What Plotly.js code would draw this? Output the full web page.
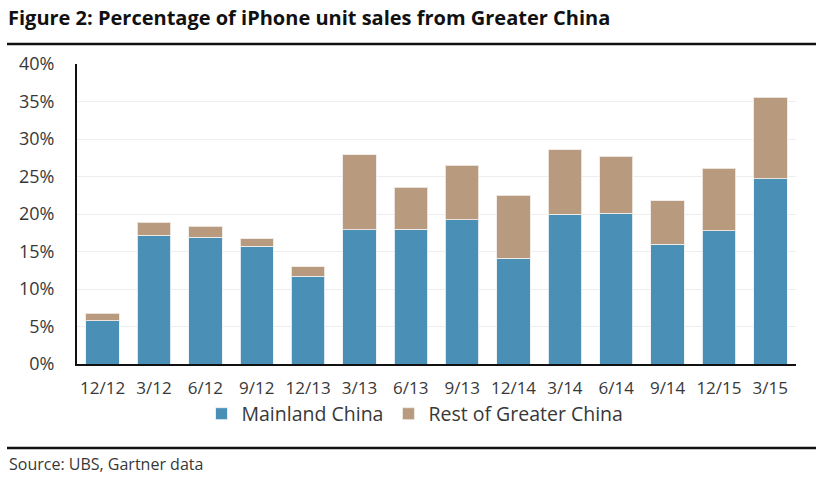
<!DOCTYPE html>
<html>
<head>
<meta charset="utf-8">
<script src="https://cdn.plot.ly/plotly-3.0.1.min.js"></script>
<style>
  html, body { margin: 0; padding: 0; background: #fff; }
  #chart { width: 822px; height: 483px; }
</style>
</head>
<body>
<div id="chart"></div>
<script>
const categories = ["12/12", "3/12", "6/12", "9/12", "12/13", "3/13", "6/13", "9/13", "12/14", "3/14", "6/14", "9/14", "12/15", "3/15"];
const mainlandChina = [5.8, 17.2, 16.9, 15.7, 11.7, 17.9, 17.95, 19.25, 14.1, 20.0, 20.1, 15.95, 17.8, 24.7];
const restOfGreaterChina = [1.0, 1.7, 1.5, 1.0, 1.3, 10.0, 5.65, 7.25, 8.4, 8.6, 7.6, 5.85, 8.3, 10.9];
const seriesNames = ["Mainland China", "Rest of Greater China"];
const titleText = "Figure 2: Percentage of iPhone unit sales from Greater China";
const sourceText = "Source: UBS, Gartner data";

const FONT = "'Open Sans', 'Noto Sans', sans-serif";
const TXT = "#383838";

const traces = [
  {
    type: "bar", name: seriesNames[0], x: categories, y: mainlandChina,
    marker: { color: "#4a8fb5", line: { color: "rgba(235,242,246,0.9)", width: 1 } },
    hoverinfo: "x+y+name"
  },
  {
    type: "bar", name: seriesNames[1], x: categories, y: restOfGreaterChina,
    marker: { color: "#b89b7f", line: { color: "rgba(240,234,228,0.9)", width: 1 } },
    hoverinfo: "x+y+name"
  }
];

// plot area: x 77..796, y 64..364 (px)
const L = 77, R = 796, T = 64, B = 364;
const pw = R - L, ph = B - T;
const px = v => (v - L) / pw;
const py = v => (B - v) / ph;

const layout = {
  width: 822, height: 483,
  margin: { l: L, r: 822 - R, t: T, b: 483 - B, pad: 0 },
  paper_bgcolor: "#ffffff", plot_bgcolor: "#ffffff",
  font: { family: FONT, color: TXT, size: 17 },
  barmode: "stack",
  bargap: 0.35,
  showlegend: true,
  title: {
    text: "<b>" + titleText + "</b>",
    font: { family: FONT, size: 20, color: "#111111" },
    xref: "container", yref: "container",
    x: 8 / 822, xanchor: "left",
    y: 1 - 18 / 483, yanchor: "middle"
  },
  xaxis: {
    type: "category",
    showline: true, linecolor: "#111111", linewidth: 2,
    showgrid: false, zeroline: false,
    ticks: "outside", ticklen: 8, tickcolor: "rgba(0,0,0,0)",
    tickfont: { family: FONT, size: 17, color: TXT },
    fixedrange: true
  },
  yaxis: {
    range: [0, 40], dtick: 5, tick0: 0,
    ticksuffix: "%",
    showline: true, linecolor: "#111111", linewidth: 2,
    showgrid: true, gridcolor: "#eeeeee", gridwidth: 1,
    zeroline: false,
    ticks: "outside", ticklen: 17, tickcolor: "rgba(0,0,0,0)",
    tickfont: { family: FONT, size: 18, color: TXT },
    fixedrange: true
  },
  legend: {
    orientation: "h",
    traceorder: "normal",
    x: px(415), xanchor: "center",
    y: py(414), yanchor: "middle",
    font: { family: FONT, size: 19.5, color: TXT },
    itemwidth: 30,
    bgcolor: "rgba(0,0,0,0)"
  },
  shapes: [
    { type: "line", xref: "paper", yref: "paper",
      x0: px(7), x1: px(816), y0: py(44), y1: py(44),
      line: { color: "#111111", width: 2.5 } },
    { type: "line", xref: "paper", yref: "paper",
      x0: px(7), x1: px(816), y0: py(448), y1: py(448),
      line: { color: "#111111", width: 2.5 } }
  ],
  annotations: [
    { text: sourceText, xref: "paper", yref: "paper",
      x: px(7), xanchor: "left", y: py(464), yanchor: "middle",
      showarrow: false, font: { family: FONT, size: 16, color: TXT } }
  ]
};

Plotly.newPlot("chart", traces, layout, { displayModeBar: false, staticPlot: true });
</script>
</body>
</html>
